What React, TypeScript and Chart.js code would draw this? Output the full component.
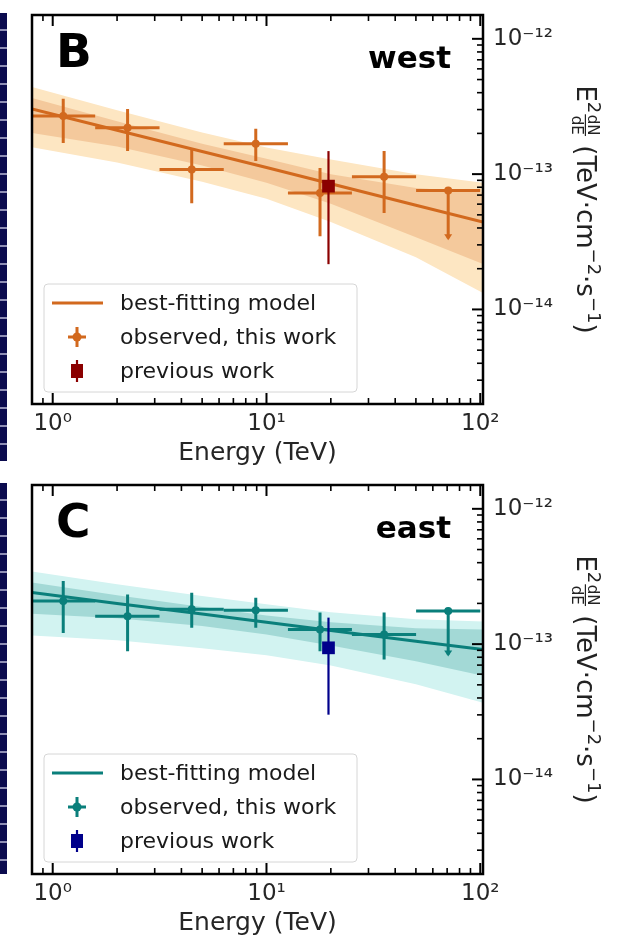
import React, { useEffect, useRef } from "react";
import { Chart, registerables } from "chart.js";

Chart.register(...registerables);

const FONT = '"DejaVu Sans", "Liberation Sans", sans-serif';

// ---- shared energy bins (TeV) ----
const binCenter = [1.12, 2.24, 4.47, 8.91, 17.8, 35.5, 70.8];
const binLow = [0.79, 1.58, 3.16, 6.31, 12.6, 25.1, 50.1];
const binHigh = [1.58, 3.16, 6.31, 12.6, 25.1, 50.1, 100];
const modelEnergy = [0.8, 2, 5, 10, 20, 50, 103];

// ---- axis ticks ----
const xMajorTicks = [1, 10, 100];
const xMinorTicks = [0.8, 0.9, 2, 3, 4, 5, 6, 7, 8, 9, 20, 30, 40, 50, 60, 70, 80, 90];
const yMajorTicks = [1e-14, 1e-13, 1e-12];
const yMinorTicks = [
  2e-15, 3e-15, 4e-15, 5e-15, 6e-15, 7e-15, 8e-15, 9e-15,
  2e-14, 3e-14, 4e-14, 5e-14, 6e-14, 7e-14, 8e-14, 9e-14,
  2e-13, 3e-13, 4e-13, 5e-13, 6e-13, 7e-13, 8e-13, 9e-13,
];

// ---- west (panel B) ----
const westFlux = [2.69e-13, 2.2e-13, 1.08e-13, 1.68e-13, 7.26e-14, 9.55e-14, 7.57e-14];
const westFluxHi = [3.6e-13, 3.03e-13, 1.53e-13, 2.16e-13, 1.11e-13, 1.48e-13, 7.8e-14];
const westFluxLo = [1.7e-13, 1.48e-13, 6.1e-14, 1.25e-13, 3.47e-14, 5.16e-14, 3.36e-14];
const westArrow = [false, false, false, false, false, false, true];
const westPrevE = [19.5];
const westPrev = [8.15e-14];
const westPrevHi = [1.48e-13];
const westPrevLo = [2.16e-14];
const westModel = [3.03e-13, 2.11e-13, 1.47e-13, 1.12e-13, 8.48e-14, 5.89e-14, 4.43e-14];
const westBand1Hi = [3.66e-13, 2.46e-13, 1.68e-13, 1.3e-13, 1.0e-13, 7.9e-14, 7.3e-14];
const westBand1Lo = [2.01e-13, 1.6e-13, 1.16e-13, 8.64e-14, 6.03e-14, 3.41e-14, 2.17e-14];
const westBand2Hi = [4.41e-13, 2.96e-13, 2.03e-13, 1.57e-13, 1.28e-13, 1.0e-13, 8.62e-14];
const westBand2Lo = [1.58e-13, 1.22e-13, 8.8e-14, 6.57e-14, 4.43e-14, 2.43e-14, 1.32e-14];

// ---- east (panel C) ----
const eastFlux = [2.08e-13, 1.61e-13, 1.81e-13, 1.78e-13, 1.28e-13, 1.18e-13, 1.76e-13];
const eastFluxHi = [2.93e-13, 2.33e-13, 2.4e-13, 2.2e-13, 1.71e-13, 1.71e-13, 1.86e-13];
const eastFluxLo = [1.21e-13, 8.87e-14, 1.32e-13, 1.32e-13, 8.87e-14, 7.7e-14, 8.39e-14];
const eastArrow = [false, false, false, false, false, false, true];
const eastPrevE = [19.5];
const eastPrev = [9.39e-14];
const eastPrevHi = [1.57e-13];
const eastPrevLo = [3.01e-14];
const eastModel = [2.41e-13, 2.0e-13, 1.67e-13, 1.45e-13, 1.26e-13, 1.05e-13, 9.11e-14];
const eastBand1Hi = [2.85e-13, 2.3e-13, 1.88e-13, 1.63e-13, 1.45e-13, 1.31e-13, 1.28e-13];
const eastBand1Lo = [1.68e-13, 1.55e-13, 1.36e-13, 1.18e-13, 9.78e-14, 7.48e-14, 5.84e-14];
const eastBand2Hi = [3.44e-13, 2.77e-13, 2.27e-13, 1.97e-13, 1.72e-13, 1.53e-13, 1.47e-13];
const eastBand2Lo = [1.16e-13, 1.07e-13, 9.34e-14, 8.26e-14, 6.96e-14, 5.05e-14, 3.69e-14];

const legendLabels = ["best-fitting model", "observed, this work", "previous work"];

type Panel = {
  letter: string;
  region: string;
  color: string;
  prevColor: string;
  band1Color: string;
  band2Color: string;
  flux: number[];
  fluxHi: number[];
  fluxLo: number[];
  arrow: boolean[];
  prevE: number[];
  prev: number[];
  prevHi: number[];
  prevLo: number[];
  model: number[];
  b1Hi: number[];
  b1Lo: number[];
  b2Hi: number[];
  b2Lo: number[];
};

const westPanel: Panel = {
  letter: "B",
  region: "west",
  color: "#d2691e",
  prevColor: "#8b0000",
  band1Color: "#f4c99c",
  band2Color: "#fde6c2",
  flux: westFlux,
  fluxHi: westFluxHi,
  fluxLo: westFluxLo,
  arrow: westArrow,
  prevE: westPrevE,
  prev: westPrev,
  prevHi: westPrevHi,
  prevLo: westPrevLo,
  model: westModel,
  b1Hi: westBand1Hi,
  b1Lo: westBand1Lo,
  b2Hi: westBand2Hi,
  b2Lo: westBand2Lo,
};

const eastPanel: Panel = {
  letter: "C",
  region: "east",
  color: "#0a7f7b",
  prevColor: "#00008b",
  band1Color: "#a3d9d6",
  band2Color: "#d2f3f1",
  flux: eastFlux,
  fluxHi: eastFluxHi,
  fluxLo: eastFluxLo,
  arrow: eastArrow,
  prevE: eastPrevE,
  prev: eastPrev,
  prevHi: eastPrevHi,
  prevLo: eastPrevLo,
  model: eastModel,
  b1Hi: eastBand1Hi,
  b1Lo: eastBand1Lo,
  b2Hi: eastBand2Hi,
  b2Lo: eastBand2Lo,
};

const SUP: Record<string, string> = {
  "0": "⁰", "1": "¹", "2": "²", "3": "³", "4": "⁴",
  "5": "⁵", "6": "⁶", "7": "⁷", "8": "⁸", "9": "⁹", "-": "⁻",
};
function powLabel(v: number): string {
  const e = Math.round(Math.log10(v));
  return "10" + String(e).split("").map((c) => SUP[c] || c).join("");
}

function toXY(xs: number[], ys: number[]) {
  return xs.map((x, i) => ({ x, y: ys[i] }));
}

function clipArea(ctx: CanvasRenderingContext2D, a: any) {
  ctx.beginPath();
  ctx.rect(a.left, a.top, a.right - a.left, a.bottom - a.top);
  ctx.clip();
}

function drawObsErrors(chart: any, p: Panel) {
  const { ctx, chartArea: a } = chart;
  const xs = chart.scales.x;
  const ys = chart.scales.y;
  ctx.save();
  clipArea(ctx, a);
  ctx.strokeStyle = p.color;
  ctx.fillStyle = p.color;
  ctx.lineWidth = 3;
  for (let i = 0; i < binCenter.length; i++) {
    const px = xs.getPixelForValue(binCenter[i]);
    const py = ys.getPixelForValue(p.flux[i]);
    const pyHi = ys.getPixelForValue(p.fluxHi[i]);
    const pyLo = ys.getPixelForValue(p.fluxLo[i]);
    ctx.beginPath();
    ctx.moveTo(xs.getPixelForValue(binLow[i]), py);
    ctx.lineTo(xs.getPixelForValue(binHigh[i]), py);
    ctx.moveTo(px, pyHi);
    ctx.lineTo(px, pyLo);
    ctx.stroke();
    if (p.arrow[i]) {
      ctx.beginPath();
      ctx.moveTo(px - 4, pyLo - 4);
      ctx.lineTo(px + 4, pyLo - 4);
      ctx.lineTo(px, pyLo + 2);
      ctx.closePath();
      ctx.fill();
    }
  }
  ctx.restore();
}

function drawPrevErrors(chart: any, p: Panel) {
  const { ctx, chartArea: a } = chart;
  const xs = chart.scales.x;
  const ys = chart.scales.y;
  ctx.save();
  clipArea(ctx, a);
  ctx.strokeStyle = p.prevColor;
  ctx.lineWidth = 2.2;
  for (let i = 0; i < p.prevE.length; i++) {
    const px = xs.getPixelForValue(p.prevE[i]);
    ctx.beginPath();
    ctx.moveTo(px, ys.getPixelForValue(p.prevHi[i]));
    ctx.lineTo(px, ys.getPixelForValue(p.prevLo[i]));
    ctx.stroke();
  }
  ctx.restore();
}

function drawFrame(chart: any) {
  const { ctx, chartArea: a } = chart;
  const xs = chart.scales.x;
  const ys = chart.scales.y;
  ctx.save();
  ctx.strokeStyle = "#000";
  const xt = (v: number, len: number, w: number) => {
    const px = xs.getPixelForValue(v);
    if (px < a.left - 0.5 || px > a.right + 0.5) return;
    ctx.lineWidth = w;
    ctx.beginPath();
    ctx.moveTo(px, a.bottom);
    ctx.lineTo(px, a.bottom - len);
    ctx.moveTo(px, a.top);
    ctx.lineTo(px, a.top + len);
    ctx.stroke();
  };
  const yt = (v: number, len: number, w: number) => {
    const py = ys.getPixelForValue(v);
    if (py < a.top - 0.5 || py > a.bottom + 0.5) return;
    ctx.lineWidth = w;
    ctx.beginPath();
    ctx.moveTo(a.right, py);
    ctx.lineTo(a.right - len, py);
    ctx.stroke();
  };
  xMinorTicks.forEach((v) => xt(v, 6, 1.6));
  xMajorTicks.forEach((v) => xt(v, 11, 2));
  yMinorTicks.forEach((v) => yt(v, 6, 1.6));
  yMajorTicks.forEach((v) => yt(v, 11, 2));
  ctx.lineWidth = 2.5;
  ctx.strokeRect(a.left, a.top, a.right - a.left, a.bottom - a.top);
  ctx.restore();
}

function drawTexts(chart: any, p: Panel) {
  const { ctx, chartArea: a } = chart;
  ctx.save();
  ctx.fillStyle = "#000";
  ctx.textBaseline = "alphabetic";
  ctx.font = `bold 47px ${FONT}`;
  ctx.textAlign = "left";
  ctx.fillText(p.letter, a.left + 24, a.top + 52);
  ctx.font = `bold 31px ${FONT}`;
  ctx.textAlign = "right";
  ctx.fillText(p.region, a.right - 32, a.top + 53);
  ctx.restore();
}

function drawYTitle(chart: any) {
  const { ctx, chartArea: a } = chart;
  const main = 26;
  const sup = 18;
  const fr = 15;
  ctx.save();
  ctx.translate(577, (a.top + a.bottom) / 2);
  ctx.rotate(Math.PI / 2);
  ctx.fillStyle = "#222";
  ctx.textBaseline = "alphabetic";
  ctx.textAlign = "left";
  const segs: { t: string; size: number; dy: number }[] = [
    { t: "E", size: main, dy: 0 },
    { t: "2", size: sup, dy: -11 },
    { t: "#FRAC#", size: fr, dy: 0 },
    { t: " (TeV·cm", size: main, dy: 0 },
    { t: "−2", size: sup, dy: -11 },
    { t: "·s", size: main, dy: 0 },
    { t: "−1", size: sup, dy: -11 },
    { t: ")", size: main, dy: 0 },
  ];
  const widthOf = (s: { t: string; size: number }) => {
    ctx.font = `${s.size}px ${FONT}`;
    if (s.t === "#FRAC#") {
      return Math.max(ctx.measureText("dN").width, ctx.measureText("dE").width) + 3;
    }
    return ctx.measureText(s.t).width;
  };
  const total = segs.reduce((acc, s) => acc + widthOf(s), 0);
  let x = -total / 2;
  for (const s of segs) {
    const w = widthOf(s);
    ctx.font = `${s.size}px ${FONT}`;
    if (s.t === "#FRAC#") {
      const cx = x + w / 2;
      ctx.textAlign = "center";
      ctx.fillText("dN", cx, -10.5);
      ctx.fillText("dE", cx, 5.5);
      ctx.fillRect(x + 1, -9, w - 2, 1.2);
      ctx.textAlign = "left";
    } else {
      ctx.fillText(s.t, x, s.dy);
    }
    x += w;
  }
  ctx.restore();
}

function drawLegend(chart: any, p: Panel) {
  const { ctx, chartArea: a } = chart;
  const x0 = a.left + 12;
  const y0 = a.top + 269;
  const w = 313;
  const h = 108;
  const r = 4;
  ctx.save();
  ctx.beginPath();
  ctx.moveTo(x0 + r, y0);
  ctx.lineTo(x0 + w - r, y0);
  ctx.quadraticCurveTo(x0 + w, y0, x0 + w, y0 + r);
  ctx.lineTo(x0 + w, y0 + h - r);
  ctx.quadraticCurveTo(x0 + w, y0 + h, x0 + w - r, y0 + h);
  ctx.lineTo(x0 + r, y0 + h);
  ctx.quadraticCurveTo(x0, y0 + h, x0, y0 + h - r);
  ctx.lineTo(x0, y0 + r);
  ctx.quadraticCurveTo(x0, y0, x0 + r, y0);
  ctx.closePath();
  ctx.fillStyle = "rgba(255,255,255,0.8)";
  ctx.fill();
  ctx.strokeStyle = "#d6d6d6";
  ctx.lineWidth = 1;
  ctx.stroke();

  const rows = [a.top + 288, a.top + 322, a.top + 356];
  const mx = a.left + 45;
  ctx.strokeStyle = p.color;
  ctx.lineWidth = 3;
  ctx.beginPath();
  ctx.moveTo(a.left + 20, rows[0]);
  ctx.lineTo(a.left + 71, rows[0]);
  ctx.stroke();
  ctx.beginPath();
  ctx.moveTo(mx - 9, rows[1]);
  ctx.lineTo(mx + 9, rows[1]);
  ctx.moveTo(mx, rows[1] - 10);
  ctx.lineTo(mx, rows[1] + 10);
  ctx.stroke();
  ctx.fillStyle = p.color;
  ctx.beginPath();
  ctx.arc(mx, rows[1], 4.5, 0, Math.PI * 2);
  ctx.fill();
  ctx.strokeStyle = p.prevColor;
  ctx.lineWidth = 2.2;
  ctx.beginPath();
  ctx.moveTo(mx, rows[2] - 11);
  ctx.lineTo(mx, rows[2] + 11);
  ctx.stroke();
  ctx.fillStyle = p.prevColor;
  ctx.fillRect(mx - 6, rows[2] - 7, 12, 14);

  ctx.fillStyle = "#1a1a1a";
  ctx.font = `22px ${FONT}`;
  ctx.textAlign = "left";
  ctx.textBaseline = "middle";
  legendLabels.forEach((t, i) => ctx.fillText(t, a.left + 88, rows[i] + 1));
  ctx.restore();
}

function PanelChart({ p }: { p: Panel }) {
  const ref = useRef<HTMLCanvasElement | null>(null);
  useEffect(() => {
    if (!ref.current) return;
    const plugin = {
      id: "panelDecor" + p.letter,
      afterDatasetDraw(chart: any, args: any) {
        const id = chart.data.datasets[args.index].id;
        if (id === "model") drawObsErrors(chart, p);
        if (id === "obs") drawPrevErrors(chart, p);
      },
      afterDraw(chart: any) {
        drawFrame(chart);
        drawTexts(chart, p);
        drawYTitle(chart);
        drawLegend(chart, p);
      },
    };
    const chart = new Chart(ref.current, {
      type: "line",
      data: {
        datasets: [
          {
            id: "prev",
            data: toXY(p.prevE, p.prev),
            showLine: false,
            pointStyle: "rect",
            pointRadius: 9,
            backgroundColor: p.prevColor,
            borderWidth: 0,
            order: 0,
          },
          {
            id: "obs",
            data: toXY(binCenter, p.flux),
            showLine: false,
            pointStyle: "circle",
            pointRadius: 4,
            backgroundColor: p.color,
            borderWidth: 0,
            order: 1,
          },
          {
            id: "model",
            data: toXY(modelEnergy, p.model),
            borderColor: p.color,
            borderWidth: 3,
            pointRadius: 0,
            fill: false,
            tension: 0,
            order: 5,
          },
          {
            id: "b1hi",
            data: toXY(modelEnergy, p.b1Hi),
            borderWidth: 0,
            borderColor: "rgba(0,0,0,0)",
            backgroundColor: p.band1Color,
            pointRadius: 0,
            fill: "+1",
            order: 8,
          },
          {
            id: "b1lo",
            data: toXY(modelEnergy, p.b1Lo),
            borderWidth: 0,
            borderColor: "rgba(0,0,0,0)",
            pointRadius: 0,
            fill: false,
            order: 8,
          },
          {
            id: "b2hi",
            data: toXY(modelEnergy, p.b2Hi),
            borderWidth: 0,
            borderColor: "rgba(0,0,0,0)",
            backgroundColor: p.band2Color,
            pointRadius: 0,
            fill: "+1",
            order: 10,
          },
          {
            id: "b2lo",
            data: toXY(modelEnergy, p.b2Lo),
            borderWidth: 0,
            borderColor: "rgba(0,0,0,0)",
            pointRadius: 0,
            fill: false,
            order: 10,
          },
        ] as any,
      },
      options: {
        responsive: false,
        animation: false,
        devicePixelRatio: 1,
        events: [],
        layout: { padding: { left: 32, top: 15, right: 0, bottom: 0 } },
        plugins: { legend: { display: false }, tooltip: { enabled: false } },
        scales: {
          x: {
            type: "logarithmic",
            min: 0.8,
            max: 103,
            afterBuildTicks: (s: any) => {
              s.ticks = xMajorTicks.map((v) => ({ value: v }));
            },
            afterFit: (s: any) => {
              s.height = 66;
              s.paddingLeft = 0;
              s.paddingRight = 0;
            },
            grid: { display: false, drawTicks: false },
            border: { display: false },
            ticks: {
              callback: (v: any) => powLabel(Number(v)),
              font: { family: FONT, size: 23 },
              color: "#262626",
              padding: 6,
              maxRotation: 0,
              autoSkip: false,
            },
            title: {
              display: true,
              text: "Energy (TeV)",
              font: { family: FONT, size: 25 },
              color: "#262626",
              padding: { top: 0, bottom: 2 },
            },
          },
          y: {
            type: "logarithmic",
            position: "right",
            min: 2e-15,
            max: 1.5e-12,
            afterBuildTicks: (s: any) => {
              s.ticks = yMajorTicks.map((v) => ({ value: v }));
            },
            afterFit: (s: any) => {
              s.width = 146;
              s.paddingTop = 0;
              s.paddingBottom = 0;
            },
            grid: { display: false, drawTicks: false },
            border: { display: false },
            ticks: {
              callback: (v: any) => powLabel(Number(v)),
              font: { family: FONT, size: 23 },
              color: "#262626",
              padding: 10,
              autoSkip: false,
            },
          },
        },
      } as any,
      plugins: [plugin],
    });
    return () => chart.destroy();
  }, [p]);
  return <canvas ref={ref} width={629} height={470} style={{ display: "block", width: 629, height: 470 }} />;
}

const stripStyle: React.CSSProperties = {
  position: "absolute",
  left: 0,
  width: 7,
  background:
    "repeating-linear-gradient(to bottom, #0b0b4e 0px, #0b0b4e 16px, #8f8fb5 16px, #8f8fb5 18px)",
};

export default function App() {
  return (
    <div
      style={{
        position: "fixed",
        left: 0,
        top: 0,
        width: 629,
        height: 937,
        overflow: "hidden",
        background: "#fff",
      }}
    >
      <div style={{ position: "absolute", left: 0, top: 0 }}>
        <PanelChart p={westPanel} />
      </div>
      <div style={{ position: "absolute", left: 0, top: 470 }}>
        <PanelChart p={eastPanel} />
      </div>
      <div style={{ ...stripStyle, top: 13, height: 448 }} />
      <div style={{ ...stripStyle, top: 483, height: 391 }} />
    </div>
  );
}
